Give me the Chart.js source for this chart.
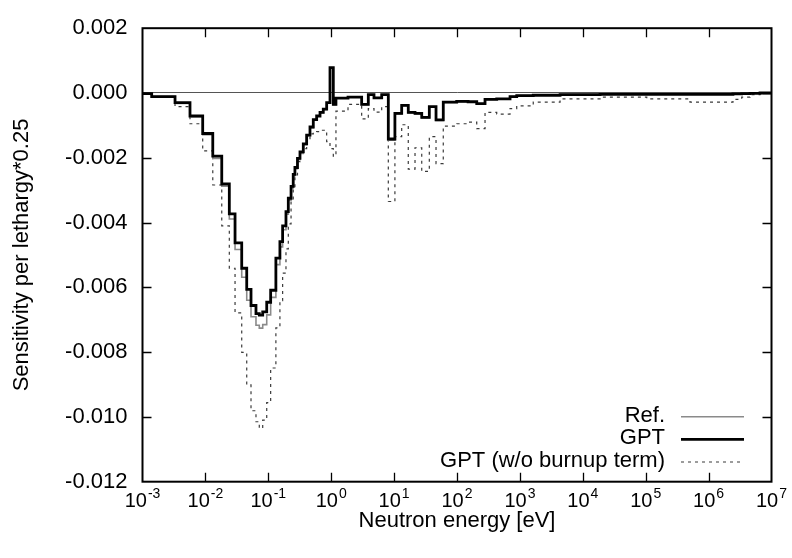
<!DOCTYPE html>
<html><head><meta charset="utf-8">
<script src="https://cdn.jsdelivr.net/npm/chart.js@4/dist/chart.umd.min.js"></script>
<style>html,body{margin:0;padding:0;background:#fff}#wrap{width:792px;height:558px}</style>
</head><body><div id="wrap"><canvas id="c" width="792" height="558"></canvas></div>
<script>
// Energy group boundaries [eV] (69 boundaries -> 68 groups)
const groupBounds = [1e-3,1.40e-3,3.29e-3,5.69e-3,9.06e-3,1.31e-2,1.82e-2,2.40e-2,2.96e-2,3.78e-2,
  4.54e-2,5.31e-2,6.37e-2,7.19e-2,8.15e-2,9.44e-2,0.109,0.132,0.153,0.169,
  0.191,0.208,0.230,0.249,0.265,0.291,0.319,0.360,0.407,0.460,
  0.519,0.587,0.664,0.748,0.847,0.957,1.08,1.19,1.85,3.05,
  3.89,4.79,6.35,8.09,10.3,13.2,16.8,21.5,27.5,36.3,
  46.4,60.5,98.9,150,206,279,428,697,890,1630,
  4350,18800,104000,506000,2.44e6,3.36e6,4.55e6,6.56e6,1e7];

const refValues = [-0.00002,-0.00011,-0.00032,-0.00073,-0.00129,-0.00202,-0.00288,-0.00389,-0.00483,-0.00569,
  -0.00640,-0.00691,-0.00717,-0.00726,-0.00715,-0.00685,-0.00631,-0.00530,-0.00475,-0.00422,
  -0.00374,-0.00331,-0.00293,-0.00255,-0.00234,-0.00206,-0.00187,-0.00160,-0.00132,-0.00107,
  -0.00084,-0.00072,-0.00061,-0.00051,-0.00031,0.00078,-0.00036,-0.00016,-0.00013,-0.00036,
  -0.00005,-0.00015,-0.00005,-0.00146,-0.00065,-0.00039,-0.00062,-0.00065,-0.00077,-0.00043,
  -0.00085,-0.00029,-0.00027,-0.00027,-0.00033,-0.00020,-0.00018,-0.00011,-0.00008,-0.00006,
  -0.00004,-0.00003,-0.00003,-0.00003,-0.00002,-0.00002,-0.00001,0];

const gptValues = [-0.00002,-0.00011,-0.00030,-0.00071,-0.00125,-0.00195,-0.00281,-0.00373,-0.00463,-0.00541,
  -0.00606,-0.00656,-0.00681,-0.00686,-0.00676,-0.00646,-0.00609,-0.00510,-0.00459,-0.00410,
  -0.00366,-0.00325,-0.00288,-0.00251,-0.00230,-0.00202,-0.00182,-0.00157,-0.00130,-0.00105,
  -0.00082,-0.00071,-0.00060,-0.00050,-0.00030,0.00078,-0.00035,-0.00016,-0.00013,-0.00035,
  -0.00005,-0.00015,-0.00005,-0.00142,-0.00063,-0.00038,-0.00060,-0.00063,-0.00075,-0.00042,
  -0.00083,-0.00028,-0.00026,-0.00027,-0.00033,-0.00020,-0.00018,-0.00011,-0.00008,-0.00007,
  -0.00005,-0.00004,-0.00004,-0.00004,-0.00003,-0.00002,-0.00001,0];

const gptNoBurnupValues = [-0.00002,-0.00011,-0.00042,-0.00095,-0.00179,-0.00284,-0.00410,-0.00541,-0.00679,-0.00801,
  -0.00901,-0.00981,-0.01015,-0.01035,-0.01010,-0.00956,-0.00849,-0.00725,-0.00641,-0.00556,
  -0.00481,-0.00404,-0.00330,-0.00293,-0.00253,-0.00212,-0.00192,-0.00172,-0.00145,-0.00126,
  -0.00122,-0.00119,-0.00115,-0.00115,-0.00150,-0.00172,-0.00195,-0.00056,-0.00035,-0.00080,
  -0.00048,-0.00059,-0.00042,-0.00335,-0.00135,-0.00098,-0.00235,-0.00169,-0.00242,-0.00135,
  -0.00218,-0.00102,-0.00095,-0.00090,-0.00110,-0.00060,-0.00065,-0.00048,-0.00040,-0.00028,
  -0.00018,-0.00013,-0.00018,-0.00028,-0.00020,-0.00013,-0.00005,-0.00001];

const xTickExponents = [-3,-2,-1,0,1,2,3,4,5,6,7];
const yTickValues = [-0.012,-0.010,-0.008,-0.006,-0.004,-0.002,0.000,0.002];
const seriesLabels = ['Ref.', 'GPT', 'GPT (w/o burnup term)'];
const xTitle = 'Neutron energy [eV]';
const yTitle = 'Sensitivity per lethargy*0.25';

const FONT = '"Liberation Sans", Arial, Helvetica, sans-serif';
Chart.defaults.font.family = FONT;
Chart.defaults.color = '#000';

function stepPoints(bounds, vals) {
  const pts = [];
  for (let i = 0; i < vals.length; i++) {
    pts.push({x: bounds[i], y: vals[i]});
    pts.push({x: bounds[i + 1], y: vals[i]});
  }
  return pts;
}

const framePlugin = {
  id: 'framePlugin',
  afterDatasetsDraw(chart) {
    const {ctx, chartArea: a, scales: {x, y}} = chart;
    ctx.save();
    ctx.strokeStyle = '#000';
    ctx.lineWidth = 1.3;
    const tl = 9;
    ctx.beginPath();
    xTickExponents.forEach(e => {
      const px = Math.round(x.getPixelForValue(Math.pow(10, e))) + 0.5;
      if (px < a.left + 2 || px > a.right - 2) return;
      ctx.moveTo(px, a.bottom); ctx.lineTo(px, a.bottom - tl);
      ctx.moveTo(px, a.top); ctx.lineTo(px, a.top + tl);
    });
    yTickValues.forEach(v => {
      const py = Math.round(y.getPixelForValue(v)) + 0.5;
      if (py < a.top + 2 || py > a.bottom - 2) return;
      ctx.moveTo(a.left, py); ctx.lineTo(a.left + tl, py);
      ctx.moveTo(a.right, py); ctx.lineTo(a.right - tl, py);
    });
    ctx.stroke();
    ctx.lineWidth = 2;
    ctx.strokeRect(a.left, a.top, a.right - a.left, a.bottom - a.top);
    ctx.restore();
  },
  afterDraw(chart) {
    const {ctx, chartArea: a, scales: {x}} = chart;
    ctx.save();
    ctx.fillStyle = '#000';
    ctx.textBaseline = 'alphabetic';
    ctx.textAlign = 'left';
    const baseY = a.bottom + 25.5;
    xTickExponents.forEach(e => {
      const px = x.getPixelForValue(Math.pow(10, e));
      const base = '10', sup = String(e);
      ctx.font = '20px ' + FONT;
      const w1 = ctx.measureText(base).width;
      ctx.font = '14px ' + FONT;
      const w2 = ctx.measureText(sup).width;
      const x0 = px - (w1 + w2 + 1) / 2;
      ctx.font = '20px ' + FONT;
      ctx.fillText(base, x0, baseY);
      ctx.font = '14px ' + FONT;
      ctx.fillText(sup, x0 + w1 + 1, baseY - 9);
    });
    // legend
    const rows = [a.bottom - 66, a.bottom - 43.4, a.bottom - 20.7];
    const textRight = 665, lx0 = 681, lx1 = 744;
    ctx.font = '22px ' + FONT;
    ctx.textAlign = 'right';
    ctx.textBaseline = 'middle';
    chart.data.datasets.forEach((ds, i) => {
      const ry = rows[i];
      ctx.fillStyle = '#000';
      ctx.fillText(ds.label, textRight, ry);
      ctx.save();
      ctx.strokeStyle = ds.borderColor;
      ctx.lineWidth = ds.borderWidth;
      ctx.setLineDash(ds.borderDash || []);
      ctx.beginPath();
      ctx.moveTo(lx0, ry + 1); ctx.lineTo(lx1, ry + 1);
      ctx.stroke();
      ctx.restore();
    });
    ctx.restore();
  }
};

new Chart(document.getElementById('c'), {
  type: 'line',
  data: {
    datasets: [
      {label: seriesLabels[0], data: stepPoints(groupBounds, refValues), borderColor: '#8a8a8a', borderWidth: 1.6, order: 1},
      {label: seriesLabels[1], data: stepPoints(groupBounds, gptValues), borderColor: '#000000', borderWidth: 2.8, order: 0},
      {label: seriesLabels[2], data: stepPoints(groupBounds, gptNoBurnupValues), borderColor: '#3a3a3a', borderWidth: 1.2, borderDash: [3, 4], order: 2}
    ]
  },
  options: {
    responsive: false,
    animation: false,
    devicePixelRatio: 1,
    layout: {padding: {top: 15.7, right: 20.5, left: 0, bottom: 0}},
    elements: {point: {radius: 0}, line: {tension: 0, fill: false, borderJoinStyle: 'miter', borderCapStyle: 'butt'}},
    plugins: {legend: {display: false}, tooltip: {enabled: false}},
    scales: {
      x: {
        type: 'logarithmic', min: 1e-3, max: 1e7, position: 'bottom',
        afterBuildTicks: s => { s.ticks = xTickExponents.map(e => ({value: Math.pow(10, e)})); },
        afterFit: s => { s.height = 76.3; },
        ticks: {display: false},
        grid: {display: false, drawTicks: false},
        border: {display: false},
        title: {display: true, text: xTitle, font: {size: 22}, color: '#000', padding: {top: 0, bottom: 24}}
      },
      y: {
        type: 'linear', min: -0.012, max: 0.002,
        afterBuildTicks: s => { s.ticks = yTickValues.map(v => ({value: v})); },
        afterFit: s => { s.width = 142.5; },
        ticks: {
          font: {size: 22}, color: '#000', padding: 15,
          callback: v => Math.abs(v) < 1e-12 ? '0.000' : Number(v).toFixed(3)
        },
        grid: {
          drawTicks: false, lineWidth: 1,
          color: c => (c.tick && Math.abs(c.tick.value) < 1e-12) ? '#555555' : 'rgba(0,0,0,0)'
        },
        border: {display: false},
        title: {display: true, text: yTitle, font: {size: 22}, color: '#000', padding: {top: 8.5, bottom: 0}}
      }
    }
  },
  plugins: [framePlugin]
});
</script>
</body></html>
